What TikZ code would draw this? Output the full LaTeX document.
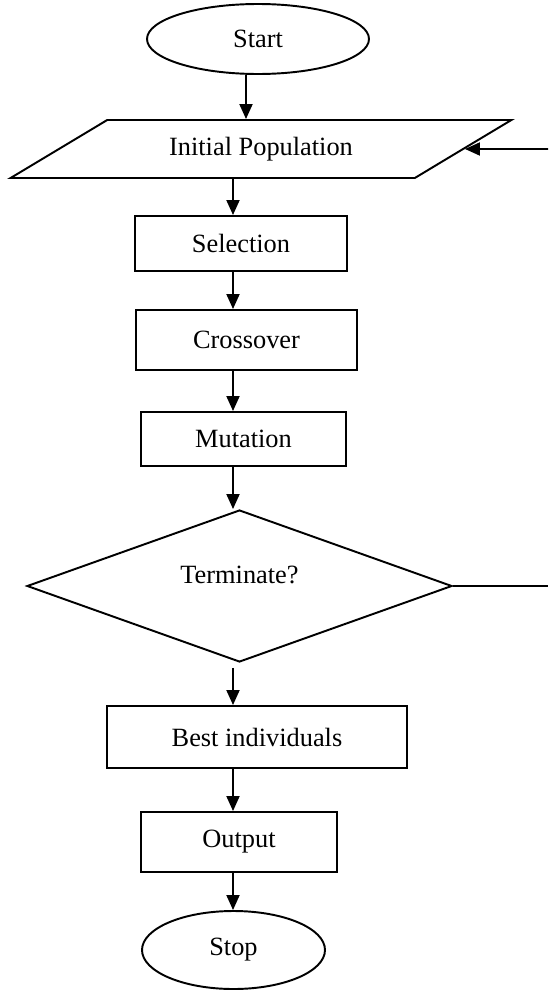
\documentclass[tikz,border=0pt]{standalone}
\usepackage{fontspec}
\setmainfont{Liberation Serif}
\usepackage{tikz}
\usetikzlibrary{arrows.meta,positioning,shapes.geometric,calc}

\begin{document}
\begin{tikzpicture}[
    every node/.style={font=\fontsize{15}{18}\selectfont},
    line width=1.1pt,
    box/.style={rectangle, draw, line width=1.1pt, inner sep=0pt, align=center},
    terminal/.style={ellipse, draw, line width=1.1pt, inner sep=0pt},
    io/.style={trapezium, trapezium left angle=22.5, trapezium right angle=157.5,
        trapezium stretches=true, draw, line width=1.1pt, inner sep=0pt},
    decision/.style={diamond, draw, line width=1.1pt, inner sep=0pt},
    arrow/.style={-{Triangle[width=0.26cm,length=0.3cm]}, line width=1.1pt},
]
\useasboundingbox (0,0) rectangle (10.96,-19.8);

% Main column
\node[terminal, minimum width=4.44cm, minimum height=1.4cm] (start) at (5.16,-0.78) {Start};
\node[io, minimum width=10.04cm, minimum height=1.16cm] (init) at (5.22,-2.98) {Initial Population};
\node[box, minimum width=4.24cm, minimum height=1.1cm] (sel) at (4.82,-4.87) {Selection};
\node[box, minimum width=4.42cm, minimum height=1.2cm] (cross) at (4.93,-6.8) {Crossover};
\node[box, minimum width=4.1cm, minimum height=1.08cm] (mut) at (4.87,-8.78) {Mutation};
\node[decision, minimum width=8.5cm, minimum height=3.04cm,
    label={[yshift=2.2mm]center:Terminate?}] (term) at (4.79,-11.72) {};
\node[box, minimum width=6cm, minimum height=1.24cm] (best) at (5.14,-14.74) {Best individuals};
\node[box, minimum width=3.92cm, minimum height=1.2cm] (out) at (4.78,-16.84) {Output};
\node[terminal, minimum width=3.66cm, minimum height=1.56cm] (stop) at (4.67,-19) {Stop};

% Flow arrows
\coordinate (spine) at (4.66,0);
\draw[arrow] ([xshift=-2.4mm]start.south) -- ([xshift=-2.4mm]start.south |- init.north);
\draw[arrow] (init.south -| spine) -- (sel.north -| spine);
\draw[arrow] (sel.south -| spine) -- (cross.north -| spine);
\draw[arrow] (cross.south -| spine) -- (mut.north -| spine);
\draw[arrow] (mut.south -| spine) -- (term.north -| spine);
\draw[arrow] ([yshift=-1mm]term.south -| spine) -- (best.north -| spine);
\draw[arrow] (best.south -| spine) -- (out.north -| spine);
\draw[arrow] (out.south -| spine) -- (stop.north -| spine);

% Loop back (runs off the right edge)
\coordinate (loopout) at (10.96,-11.72);
\coordinate (loopin) at (10.96,-2.98);
\draw (term.east) -- (loopout);
\draw[arrow] (loopin) -- (init);
\end{tikzpicture}
\end{document}
